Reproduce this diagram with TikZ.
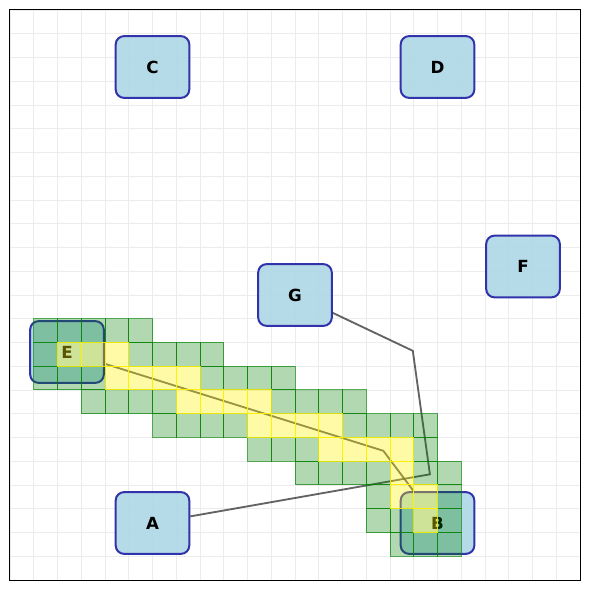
\documentclass[tikz,border=0pt]{standalone}
\usepackage{fontspec}
\setsansfont{DejaVu Sans}
\definecolor{nodeblue}{RGB}{173,216,230}
\definecolor{edgeblue}{RGB}{50,50,170}
\definecolor{pathgreen}{RGB}{0,128,0}
\definecolor{routegray}{RGB}{60,60,60}
\usepackage{tikz}
\usetikzlibrary{positioning,calc}

\tikzset{
  place/.style={draw=edgeblue,fill=nodeblue,fill opacity=0.9,text opacity=1,
                line width=1.2pt,rounded corners=5pt,minimum width=1.55cm,
                minimum height=1.3cm,inner sep=0pt,font=\sffamily\bfseries},
  route/.style={draw=routegray,line width=1.1pt,opacity=0.8},
  opencell/.style={fill=pathgreen,fill opacity=0.3,draw=pathgreen,draw opacity=0.65,line width=0.6pt},
  pathcell/.style={fill=yellow,fill opacity=0.35,draw=yellow,draw opacity=0.8,line width=0.6pt},
}

\begin{document}
\begin{tikzpicture}[x=0.5cm,y=0.5cm]
            \useasboundingbox[fill=white] (-0.421,-0.421) rectangle (24.421,24.421);
            \draw[gray!15,line width=0.5pt,step=0.5cm] (0,0) grid (24,24);

            \node[place] (C) at (6,21.6) {C};
            \node[place] (D) at (18,21.6) {D};
            \node[place] (E) at (2.4,9.6) {E};
            \node[place] (A) at (6,2.4) {A};
            \node[place] (B) at (18,2.4) {B};
            \node[place] (F) at (21.6,13.2) {F};
            \node[place] (G) at (12,12) {G};

            \coordinate (k1) at (15.72,5.44);
            \coordinate (k2) at (16.96,9.65);
            \coordinate (k3) at (17.68,4.45);
            \draw[route] (E) -- (k1) -- (B);
            \draw[route] (G) -- (k2) -- (k3) -- (A);

            \foreach \r/\a/\b in {13/1/5,14/1/1,14/5/8,15/1/3,15/8/11,16/3/6,16/11/14,
                                  17/6/9,17/14/17,18/10/12,18/17/17,19/12/15,19/17/18,
                                  20/15/15,20/18/18,21/15/16,21/18/18,22/16/18}
                \foreach \c in {\a,...,\b}
                    \draw[opencell] (\c,23-\r) rectangle ++(1,1);
            \foreach \r/\a/\b in {14/2/4,15/4/7,16/7/10,17/10/13,18/13/16,19/16/16,20/16/17,21/17/17}
                \foreach \c in {\a,...,\b}
                    \draw[pathcell] (\c,23-\r) rectangle ++(1,1);

            \draw[black,line width=0.6pt] (0,0) rectangle (24,24);
        \end{tikzpicture}
\end{document}
